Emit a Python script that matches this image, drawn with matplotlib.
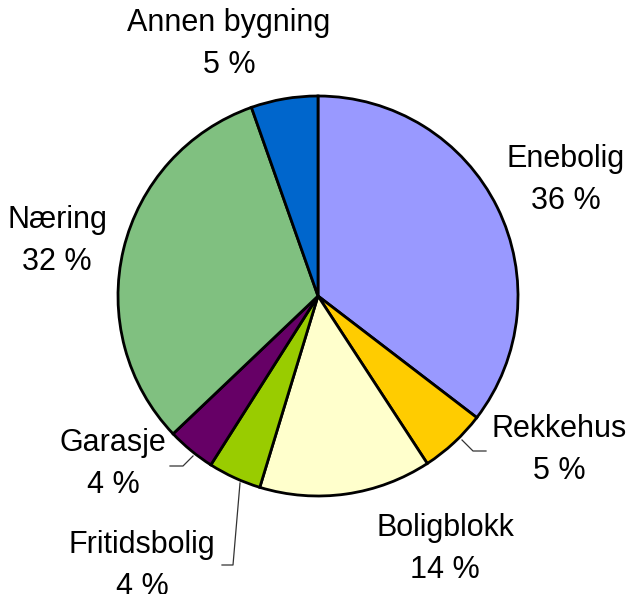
import numpy as np
import matplotlib.pyplot as plt

plt.rcParams['font.family'] = ['Liberation Sans', 'DejaVu Sans']

# andel per bygningstype (i prosent)
kategorier = ['Enebolig', 'Rekkehus', 'Boligblokk', 'Fritidsbolig', 'Garasje', 'Næring', 'Annen bygning']
andel = [35.4, 5.4, 13.9, 4.3, 3.9, 31.7, 5.4]
etiketter = ['36 %', '5 %', '14 %', '4 %', '4 %', '32 %', '5 %']
farger = ['#9999FF', '#FFCC00', '#FFFFCC', '#99CC00', '#660066', '#80C080', '#0066CC']

# tekstplassering i piksler
tekst_xy = [(566, 180), (559, 450), (445, 549), (142, 566), (113, 464), (57, 241), (229, 44)]

fig = plt.figure(figsize=(6.31, 5.94), dpi=100)
ax = fig.add_axes([0, 0, 1, 1])

ax.pie(andel, colors=farger, startangle=-90, counterclock=True,
       center=(318, 296), radius=200,
       wedgeprops=dict(edgecolor='black', linewidth=2))

ax.set_xlim(0, 631)
ax.set_ylim(594, 0)
ax.set_aspect('equal')
ax.axis('off')

for navn, et, (x, y) in zip(kategorier, etiketter, tekst_xy):
    ax.text(x, y, navn + '\n' + et, ha='center', va='center',
            fontsize=22, linespacing=1.55)

# ledelinjer
ax.plot([462, 473, 486], [440, 451, 451], color='#333333', lw=0.9)
ax.plot([193, 183, 170], [456, 466, 466], color='#333333', lw=0.9)
ax.plot([240, 233, 222], [483, 565, 565], color='#333333', lw=0.9)

fig.savefig('out.png', dpi=100)
